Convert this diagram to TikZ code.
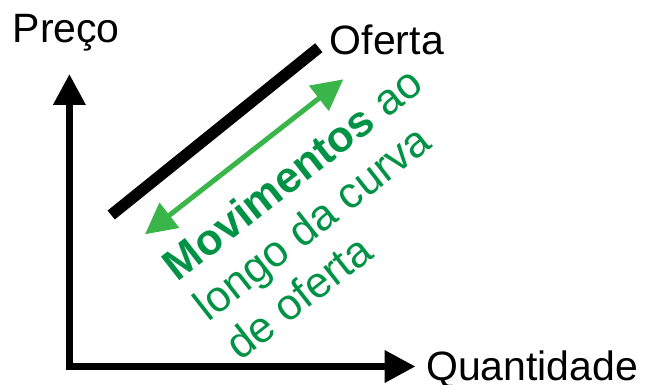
\documentclass[tikz,border=0pt]{standalone}
\usepackage{fontspec}
\setmainfont{Liberation Sans}
\usetikzlibrary{arrows.meta}
\definecolor{arrowgreen}{HTML}{3AB54A}
\definecolor{textgreen}{HTML}{009245}
\begin{document}
\begin{tikzpicture}[x=1pt,y=-1pt,
  axis/.style={line width=7pt,-{Triangle[length=31pt,width=31pt]}},
  supply/.style={line width=11.5pt,line cap=butt},
  move/.style={line width=5pt,arrowgreen,{Triangle[length=31pt,width=31pt]}-{Triangle[length=31pt,width=31pt]}},
  lbl/.style={inner sep=0pt,anchor=base west,font=\fontsize{41}{49}\selectfont},
  glbl/.style={inner sep=0pt,anchor=base west,rotate=38,text=textgreen,font=\fontsize{43.5}{50}\selectfont}]
\useasboundingbox (0,0) rectangle (649,385);
% axes
\coordinate (ytop) at (69.4,74);
\coordinate (ybot) at (69.4,370);
\coordinate (xleft) at (65.8,366.5);
\coordinate (xright) at (415.5,366.5);
\draw[axis] (ybot) -- (ytop);
\draw[axis] (xleft) -- (xright);
% supply curve
\coordinate (s1) at (111.2,215);
\coordinate (s2) at (318.8,47.7);
\draw[supply] (s1) -- (s2);
% movement arrow
\coordinate (m1) at (145,234.3);
\coordinate (m2) at (343.3,79.3);
\draw[move] (m1) -- (m2);
% labels
\node[lbl] (preco) at (12.5,42.5) {Preço};
\node[lbl] (oferta) at (329.7,54.5) {Oferta};
\node[lbl] (quant) at (426,380.5) {Quantidade};
\node[glbl] (t1) at (177.7,282.5) {\textbf{Movimentos} ao};
\node[glbl] (t2) at (208.8,322.3) {longo da curva};
\node[glbl] (t3) at (239.9,362.1) {de oferta};
\end{tikzpicture}
\end{document}
